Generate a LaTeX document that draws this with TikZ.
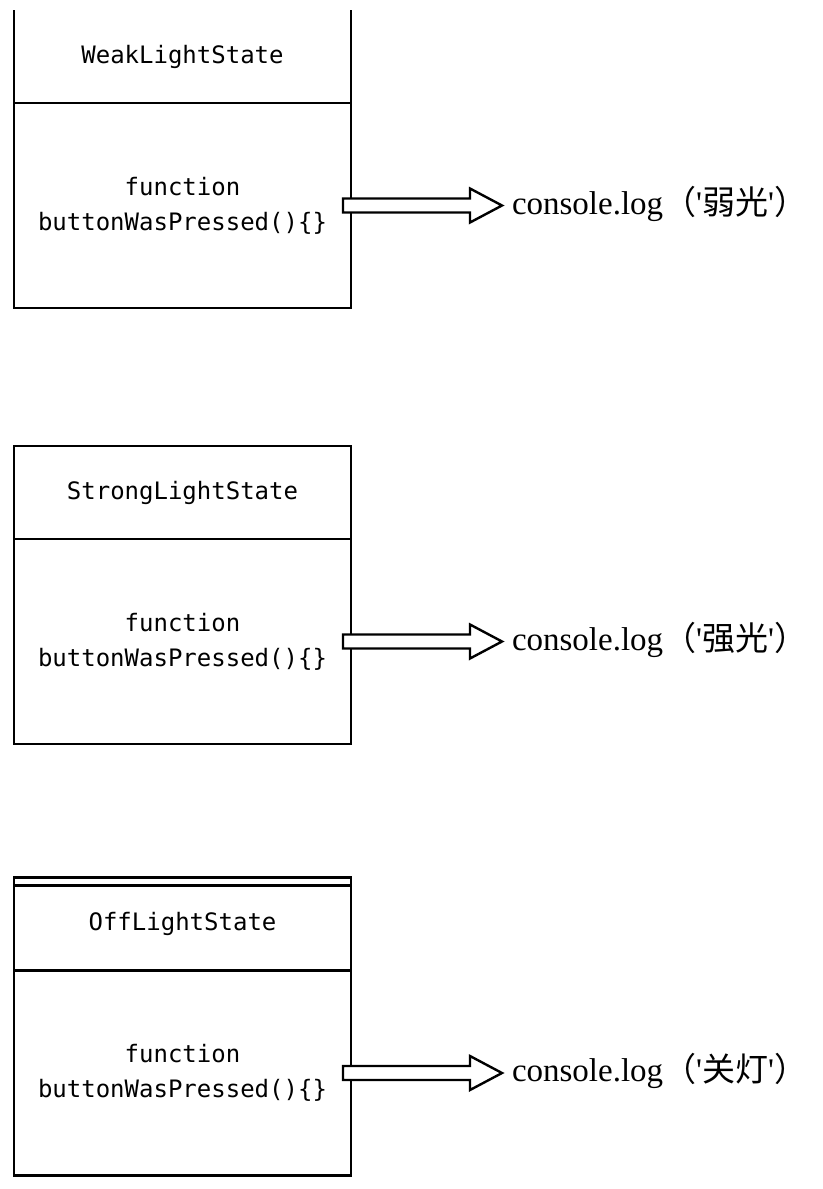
\documentclass[tikz,border=0pt]{standalone}
\usepackage{fontspec}
\setmainfont{Liberation Serif}
\newfontfamily\codefont{DejaVu Sans Mono}
\newfontfamily\cjk{Noto Sans CJK SC}
\usepackage{tikz}
\usetikzlibrary{positioning, calc}

\begin{document}
\begin{tikzpicture}[x=0.5pt, y=-0.5pt, line width=1.2pt,
          head/.style={draw, outer sep=0pt, minimum width=168.5pt, minimum height=46.5pt, font=\codefont\fontsize{12}{17.5}\selectfont},
          body/.style={head, minimum height=102.5pt, align=center},
          logtxt/.style={inner sep=0pt, outer sep=0pt, text height=12pt, text depth=3.5pt, font=\fontsize{16.5}{19}\selectfont},
          fat/.style={fill=white, to path={let \p1=(\tikztostart), \p2=(\tikztotarget) in
            (\x1-4pt,\y1+3.5pt) -- (\x2-21pt,\y1+3.5pt) -- (\x2-21pt,\y1+8.5pt) -- (\x2-5pt,\y1)
            -- (\x2-21pt,\y1-8.5pt) -- (\x2-21pt,\y1-3.5pt) -- (\x1-4pt,\y1-3.5pt) -- cycle}},
          node distance=0pt and 80.5pt]
        \useasboundingbox (0,0) rectangle (823,1189);
        \node[head, draw=none] (weak) at (182.5,56.5) {WeakLightState};
        \node[body, below=of weak] (weakfn) {function\\buttonWasPressed()\{\}};
        \node[logtxt, right=of weakfn] (weaklog) {console.log{\cjk （}\textquotesingle{\cjk 弱光}\textquotesingle{\cjk ）}};
        \draw (weak.north west) -- (weak.south west) (weak.north east) -- (weak.south east);
        \draw[fat] (weakfn.east) to (weaklog.west);
        \node[head] (strong) at (182.5,492.5) {StrongLightState};
        \node[body, below=of strong] (strongfn) {function\\buttonWasPressed()\{\}};
        \node[logtxt, right=of strongfn] (stronglog) {console.log{\cjk （}\textquotesingle{\cjk 强光}\textquotesingle{\cjk ）}};
        \draw[fat] (strongfn.east) to (stronglog.west);
        \node[head] (off) at (182.5,924) {OffLightState};
        \node[body, below=of off] (offfn) {function\\buttonWasPressed()\{\}};
        \node[logtxt, right=of offfn] (offlog) {console.log{\cjk （}\textquotesingle{\cjk 关灯}\textquotesingle{\cjk ）}};
        \draw ([yshift=-4pt]off.north west) -- ([yshift=-4pt]off.north east);
        \draw[fat] (offfn.east) to (offlog.west);
      \end{tikzpicture}
\end{document}
